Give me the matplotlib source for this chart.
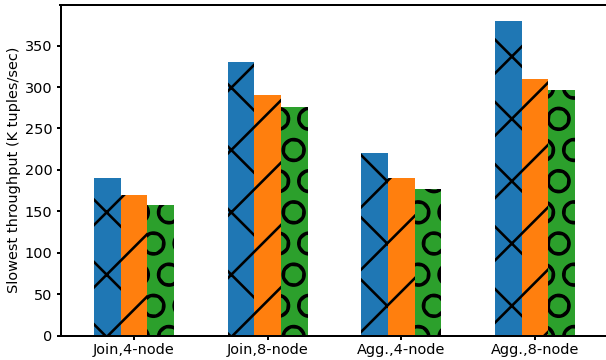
import numpy as np
import matplotlib
matplotlib.use("Agg")
import matplotlib.pyplot as plt

DPI = 187
PX = 72.0 / DPI  # one pixel in points
W, H = 606, 360
# extra canvas on the left/top, trimmed off before saving (sets hatch phase)
OX, OY = 18, 37

groups = ["Join,4-node", "Join,8-node", "Agg.,4-node", "Agg.,8-node"]
series_a = [190, 330, 220, 380]
series_b = [170, 290, 190, 310]
series_c = [158, 276, 177, 296]

plt.rcParams["hatch.color"] = "black"
plt.rcParams["hatch.linewidth"] = 1.0

FW, FH = W + OX, H + OY
fig = plt.figure(figsize=(FW / DPI, FH / DPI), dpi=DPI)
ax = fig.add_axes([(OX + 60.5) / FW, 24.5 / FH, 548 / FW, 330.5 / FH])

x = np.arange(len(groups))
w = 0.2
ax.bar(x - w, series_a, w, color="C0", hatch="x", linewidth=0)
ax.bar(x, series_b, w, color="C1", hatch="/", linewidth=0)
ax.bar(x + w, series_c, w, color="C2", hatch="O", linewidth=0)

ax.set_xlim(-0.55, 3.55)
ax.set_ylim(0, 399)
ax.set_xticks(x)
ax.set_xticklabels(groups)
ax.set_yticks(np.arange(0, 351, 50))

fs = 14.5 * PX
ax.tick_params(labelsize=fs, length=4.5 * PX, width=2 * PX, pad=3.5 * PX)
ax.set_ylabel("Slowest throughput (K tuples/sec)", fontsize=fs, labelpad=4 * PX)
for s in ax.spines.values():
    s.set_linewidth(2 * PX)

fig.canvas.draw()
img = np.asarray(fig.canvas.buffer_rgba())[OY:OY + H, OX:OX + W].copy()
plt.imsave("out.png", img)
